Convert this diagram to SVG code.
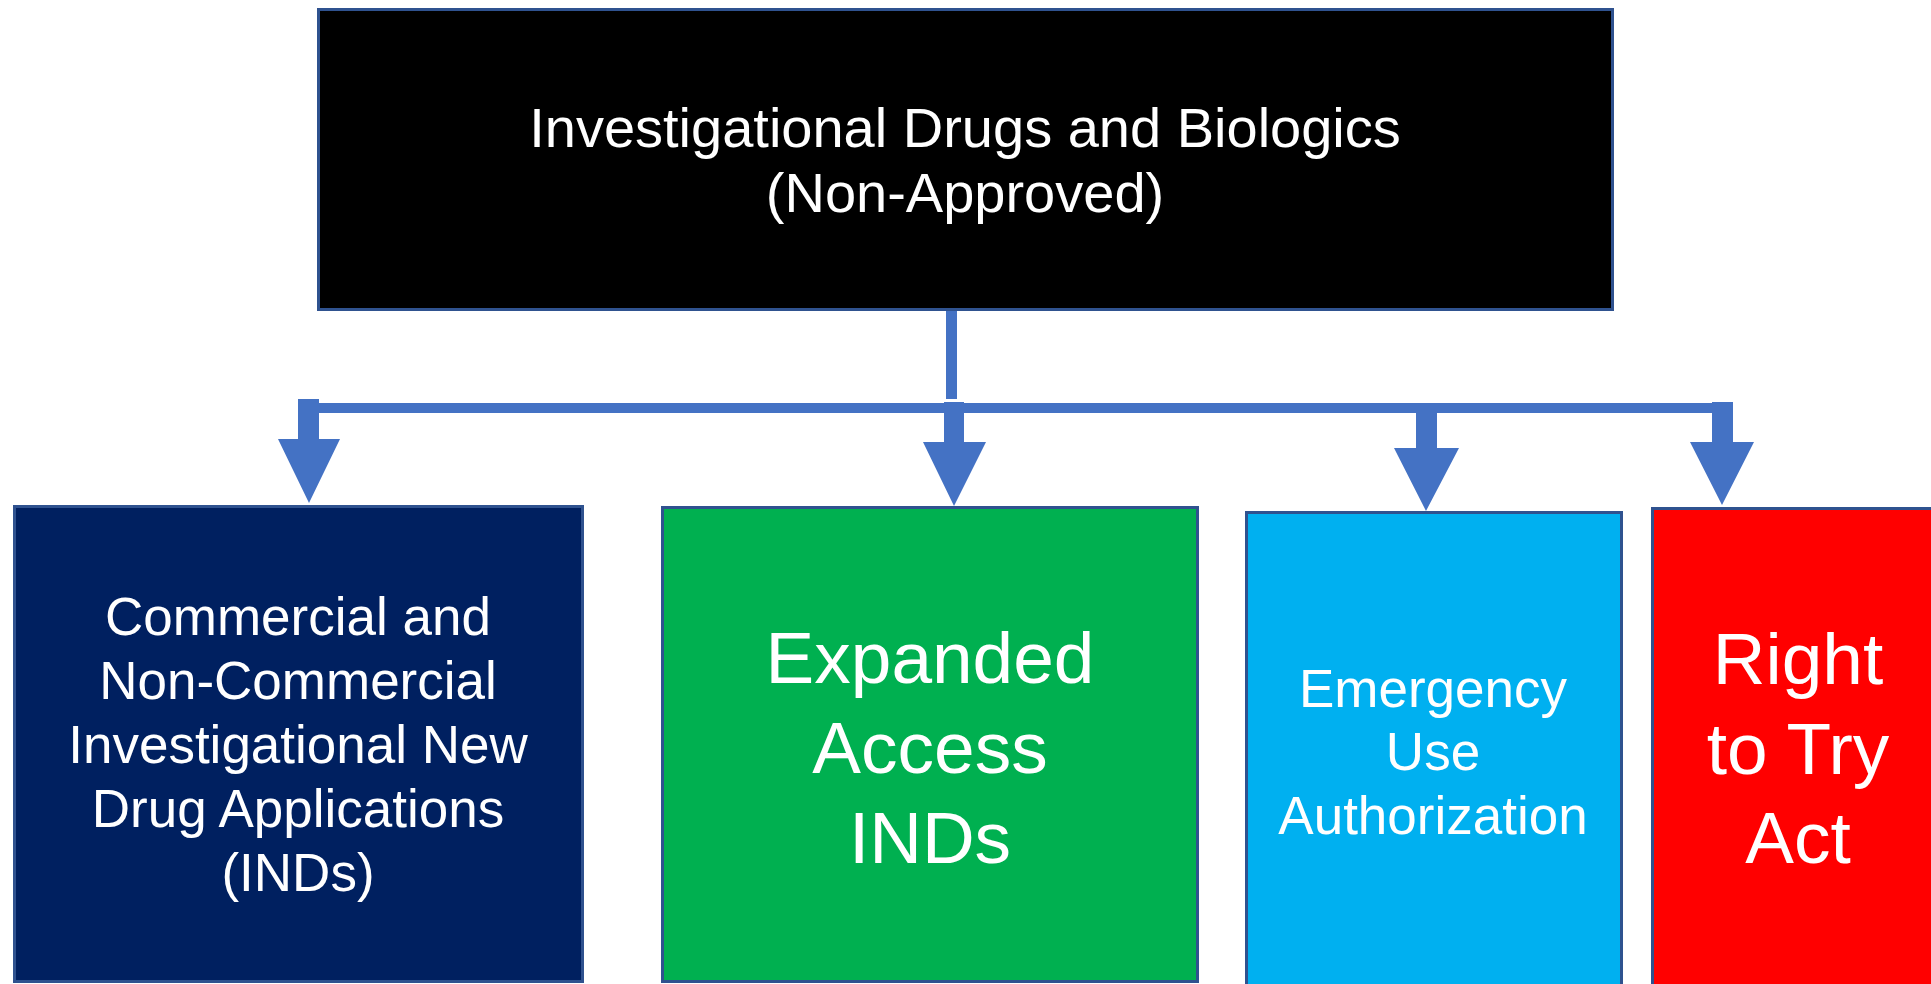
<svg xmlns="http://www.w3.org/2000/svg" width="1931" height="984" viewBox="0 0 1931 984">
<style>
.box{stroke:#2F528F;stroke-width:3}
.t{font-family:"Liberation Sans",Arial,sans-serif;fill:#ffffff;text-anchor:middle}
.conn{fill:#4472C4;stroke:none}
</style>
<rect width="1931" height="984" fill="#ffffff"/>
<g id="connectors">
  <rect class="conn" x="946" y="311" width="11" height="88"/>
  <rect class="conn" x="298" y="403" width="1435" height="10"/>
  <path class="conn" d="M298,399 H319 V439 H340 L309,503 L278,439 H298 Z"/>
  <path class="conn" d="M944,402 H964 V442 H986 L954,506 L923,442 H944 Z"/>
  <path class="conn" d="M1416,413 H1437 V448 H1459 L1426,511 L1394,448 H1416 Z"/>
  <path class="conn" d="M1712,402 H1733 V442 H1754 L1722,505 L1690,442 H1712 Z"/>
</g>
<g id="node-top">
  <rect class="box" x="318.5" y="9.5" width="1294" height="300" fill="#000000"/>
  <text class="t" x="965" y="147" font-size="56">Investigational Drugs and Biologics</text>
  <text class="t" x="965" y="212" font-size="56">(Non-Approved)</text>
</g>
<g id="node-inds">
  <rect class="box" x="14.5" y="506.5" width="568" height="475" fill="#002060"/>
  <text class="t" font-size="53"><tspan x="298" y="635">Commercial and</tspan><tspan x="298" y="699">Non-Commercial</tspan><tspan x="298" y="763">Investigational New</tspan><tspan x="298" y="827">Drug Applications</tspan><tspan x="298" y="891">(INDs)</tspan></text>
</g>
<g id="node-expanded">
  <rect class="box" x="662.5" y="507.5" width="535" height="474" fill="#00B050"/>
  <text class="t" font-size="73"><tspan x="930" y="683">Expanded</tspan><tspan x="930" y="773">Access</tspan><tspan x="930" y="863">INDs</tspan></text>
</g>
<g id="node-eua">
  <rect class="box" x="1246.5" y="512.5" width="375" height="490" fill="#00B0F0"/>
  <text class="t" font-size="53"><tspan x="1433" y="707">Emergency</tspan><tspan x="1433" y="770">Use</tspan><tspan x="1433" y="834">Authorization</tspan></text>
</g>
<g id="node-rtt">
  <rect class="box" x="1652.5" y="508.5" width="292" height="494" fill="#FF0000"/>
  <text class="t" font-size="73"><tspan x="1798" y="684">Right</tspan><tspan x="1798" y="774">to Try</tspan><tspan x="1798" y="863">Act</tspan></text>
</g>
</svg>
